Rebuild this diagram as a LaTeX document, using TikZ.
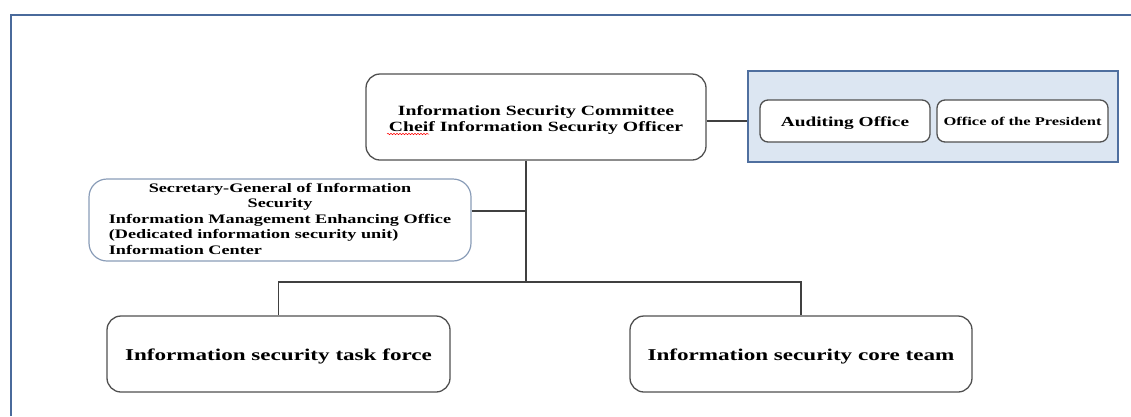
\documentclass[tikz,border=0pt]{standalone}
\usepackage{fontspec}
\setmainfont{Liberation Serif}[FakeStretch=1.4]
\usetikzlibrary{decorations.pathmorphing}

\definecolor{frameblue}{HTML}{4A6A9B}
\definecolor{panelfill}{HTML}{DCE6F2}
\definecolor{panelline}{HTML}{4F6F9F}
\definecolor{boxline}{HTML}{505050}
\definecolor{secline}{HTML}{8A9DB8}
\definecolor{linkline}{HTML}{404040}

\tikzset{
  orgbox/.style={draw=boxline, line width=1.3pt, fill=white, rounded corners=14pt,
    inner sep=0pt, font=\bfseries},
  smallbox/.style={orgbox, rounded corners=8pt},
  secbox/.style={draw=secline, line width=1.2pt, fill=white, rounded corners=18pt,
    inner sep=0pt, font=\bfseries},
  panel/.style={draw=panelline, line width=2pt, fill=panelfill, inner sep=0pt},
  link/.style={draw=linkline, line width=1.2pt},
  framebar/.style={draw=frameblue, line width=2.2pt}
}

\begin{document}
\begin{tikzpicture}[x=1pt, y=-1pt]
\useasboundingbox (0,0) rectangle (1131,416);

% page frame
\coordinate (fa) at (11,416);
\coordinate (fb) at (11,15);
\coordinate (fc) at (1131,15);
\draw[framebar] (fa) -- (fb) -- (fc);

% committee
\node[orgbox, minimum width=340pt, minimum height=86pt, text height=5pt, text depth=8pt,
      font=\bfseries\fontsize{14.1}{15.5}\selectfont] (top) at (536,117)
  {\begin{tabular}[t]{@{}c@{}}Information Security Committee\\Cheif Information Security Officer\end{tabular}};
\draw[red, line width=0.5pt, decorate,
      decoration={snake, amplitude=0.7pt, segment length=3pt}]
  ([xshift=-149pt, yshift=-17pt]top.center) -- ([xshift=-107pt, yshift=-17pt]top.center);

% advisory panel
\node[panel, minimum width=370pt, minimum height=91pt] (panel) at (933,116.5) {};
\node[smallbox, minimum width=170pt, minimum height=42pt, text height=10pt, text depth=0pt,
      font=\bfseries\fontsize{13.8}{15}\selectfont] (audit) at (845,121) {Auditing Office};
\node[smallbox, minimum width=171pt, minimum height=42pt, text height=8.5pt, text depth=0pt,
      font=\bfseries\fontsize{11.8}{13}\selectfont] (pres) at (1022.5,121) {Office of the President};
\draw[link] (top.east |- audit) -- (panel.west |- audit);

% secretary-general
\node[secbox, minimum width=382pt, minimum height=82pt, text height=0pt, text depth=55pt] (sec) at (280,220)
  {\fontsize{13}{15.4}\selectfont
   \begin{tabular}[t]{@{}l@{}}
   \multicolumn{1}{@{}c@{}}{Secretary-General of Information}\\
   \multicolumn{1}{@{}c@{}}{Security}\\
   Information Management Enhancing Office\\
   (Dedicated information security unit)\\
   Information Center
   \end{tabular}};

% teams
\node[orgbox, minimum width=343pt, minimum height=76pt, text height=12pt, text depth=0pt,
      font=\bfseries\fontsize{16.5}{18}\selectfont] (task) at (278.5,354) {Information security task force};
\node[orgbox, minimum width=342pt, minimum height=76pt, text height=12pt, text depth=0pt,
      font=\bfseries\fontsize{16.5}{18}\selectfont] (core) at (801,354) {Information security core team};

% connectors
\coordinate (jsec) at (526,211);
\coordinate (jbus) at (526,282);
\draw[link] (top.south -| jsec) -- (jbus);
\draw[link] (sec.east |- jsec) -- (jsec);
\draw[link] (task.north) |- (jbus) -| (core.north);
\end{tikzpicture}
\end{document}
